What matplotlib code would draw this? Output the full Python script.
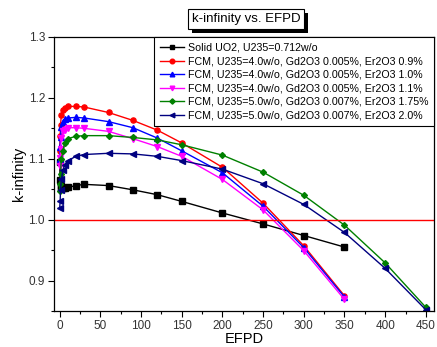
import matplotlib
matplotlib.use("Agg")
import matplotlib.pyplot as plt
from matplotlib.ticker import MultipleLocator
import matplotlib.patheffects as pe

plt.rcParams['font.family'] = ['Liberation Sans', 'DejaVu Sans']

efpd_4 = [0, 0.5, 1, 2, 4, 6, 10, 20, 30, 60, 90, 120, 150, 200, 250, 300, 350]
efpd_5 = [0, 0.5, 1, 2, 4, 6, 10, 20, 30, 60, 90, 120, 150, 200, 250, 300, 350, 400, 450]

k_uo2 = [1.095, 1.065, 1.055, 1.052, 1.052, 1.052, 1.053, 1.056, 1.058, 1.056, 1.049, 1.041, 1.030, 1.011, 0.993, 0.974, 0.955]
k_er09 = [1.112, 1.137, 1.155, 1.172, 1.180, 1.184, 1.186, 1.186, 1.185, 1.176, 1.163, 1.147, 1.126, 1.086, 1.027, 0.957, 0.875]
k_er10 = [1.100, 1.120, 1.136, 1.152, 1.160, 1.165, 1.167, 1.168, 1.167, 1.161, 1.151, 1.134, 1.113, 1.077, 1.022, 0.954, 0.873]
k_er11 = [1.088, 1.101, 1.116, 1.134, 1.145, 1.148, 1.151, 1.151, 1.150, 1.145, 1.133, 1.120, 1.104, 1.066, 1.016, 0.949, 0.869]
k_er175 = [1.047, 1.058, 1.075, 1.100, 1.112, 1.126, 1.133, 1.137, 1.138, 1.138, 1.135, 1.131, 1.123, 1.106, 1.078, 1.040, 0.991, 0.929, 0.856]
k_er20 = [1.019, 1.030, 1.048, 1.066, 1.081, 1.090, 1.097, 1.104, 1.107, 1.109, 1.108, 1.104, 1.097, 1.083, 1.059, 1.025, 0.979, 0.920, 0.852]

labels = [
    "Solid UO2, U235=0.712w/o",
    "FCM, U235=4.0w/o, Gd2O3 0.005%, Er2O3 0.9%",
    "FCM, U235=4.0w/o, Gd2O3 0.005%, Er2O3 1.0%",
    "FCM, U235=4.0w/o, Gd2O3 0.005%, Er2O3 1.1%",
    "FCM, U235=5.0w/o, Gd2O3 0.007%, Er2O3 1.75%",
    "FCM, U235=5.0w/o, Gd2O3 0.007%, Er2O3 2.0%",
]

fig = plt.figure(figsize=(4.37, 3.47), dpi=100)
ax = fig.add_axes([0.1236, 0.1037, 0.8695, 0.7897])

series = [
    (efpd_4, k_uo2, 'black', 's'),
    (efpd_4, k_er09, '#ff0000', 'o'),
    (efpd_4, k_er10, '#0000ff', '^'),
    (efpd_4, k_er11, '#ff00ff', 'v'),
    (efpd_5, k_er175, '#008000', 'D'),
    (efpd_5, k_er20, '#000080', '<'),
]
for (x, y, c, m), lab in zip(series, labels):
    ms = 3.0 if m == 'D' else 3.7
    ax.plot(x, y, color=c, marker=m, markersize=ms, linewidth=1.0, label=lab, clip_on=True)

ax.axhline(1.0, color='#ff0000', linewidth=1.0)

ax.set_xlim(-7, 460)
ax.set_ylim(0.85, 1.3)
ax.xaxis.set_major_locator(MultipleLocator(50))
ax.xaxis.set_minor_locator(MultipleLocator(25))
ax.yaxis.set_major_locator(MultipleLocator(0.1))
ax.yaxis.set_minor_locator(MultipleLocator(0.05))
ax.yaxis.set_major_formatter(matplotlib.ticker.FormatStrFormatter('%.1f'))
ax.tick_params(axis='both', which='major', direction='out', length=4, width=0.8, labelsize=8.5,
               colors='black', labelcolor='#333333', pad=2.5)
ax.tick_params(axis='both', which='minor', direction='out', length=2.5, width=0.8)
ax.tick_params(top=False, right=False)
for s in ax.spines.values():
    s.set_linewidth(0.9)

ax.set_xlabel("EFPD", fontsize=10.5, labelpad=0)
ax.set_ylabel("k-infinity", fontsize=10.5, labelpad=2)

leg = ax.legend(loc='upper right', bbox_to_anchor=(1.0, 1.0), fontsize=7.7, frameon=True,
                fancybox=False, edgecolor='black', framealpha=1, borderpad=0.55,
                labelspacing=0.33, handlelength=2.3, handletextpad=0.3, borderaxespad=0,
                markerscale=0.9)
leg.get_frame().set_linewidth(0.8)

fig.text(0.563, 0.945, "k-infinity vs. EFPD", ha='center', va='center', fontsize=9.5,
         bbox=dict(boxstyle='square,pad=0.3', facecolor='white', edgecolor='black', linewidth=0.8,
                   path_effects=[pe.SimplePatchShadow(offset=(3, -3), shadow_rgbFace='black', alpha=1), pe.Normal()]))

fig.savefig("out.png", dpi=100)
